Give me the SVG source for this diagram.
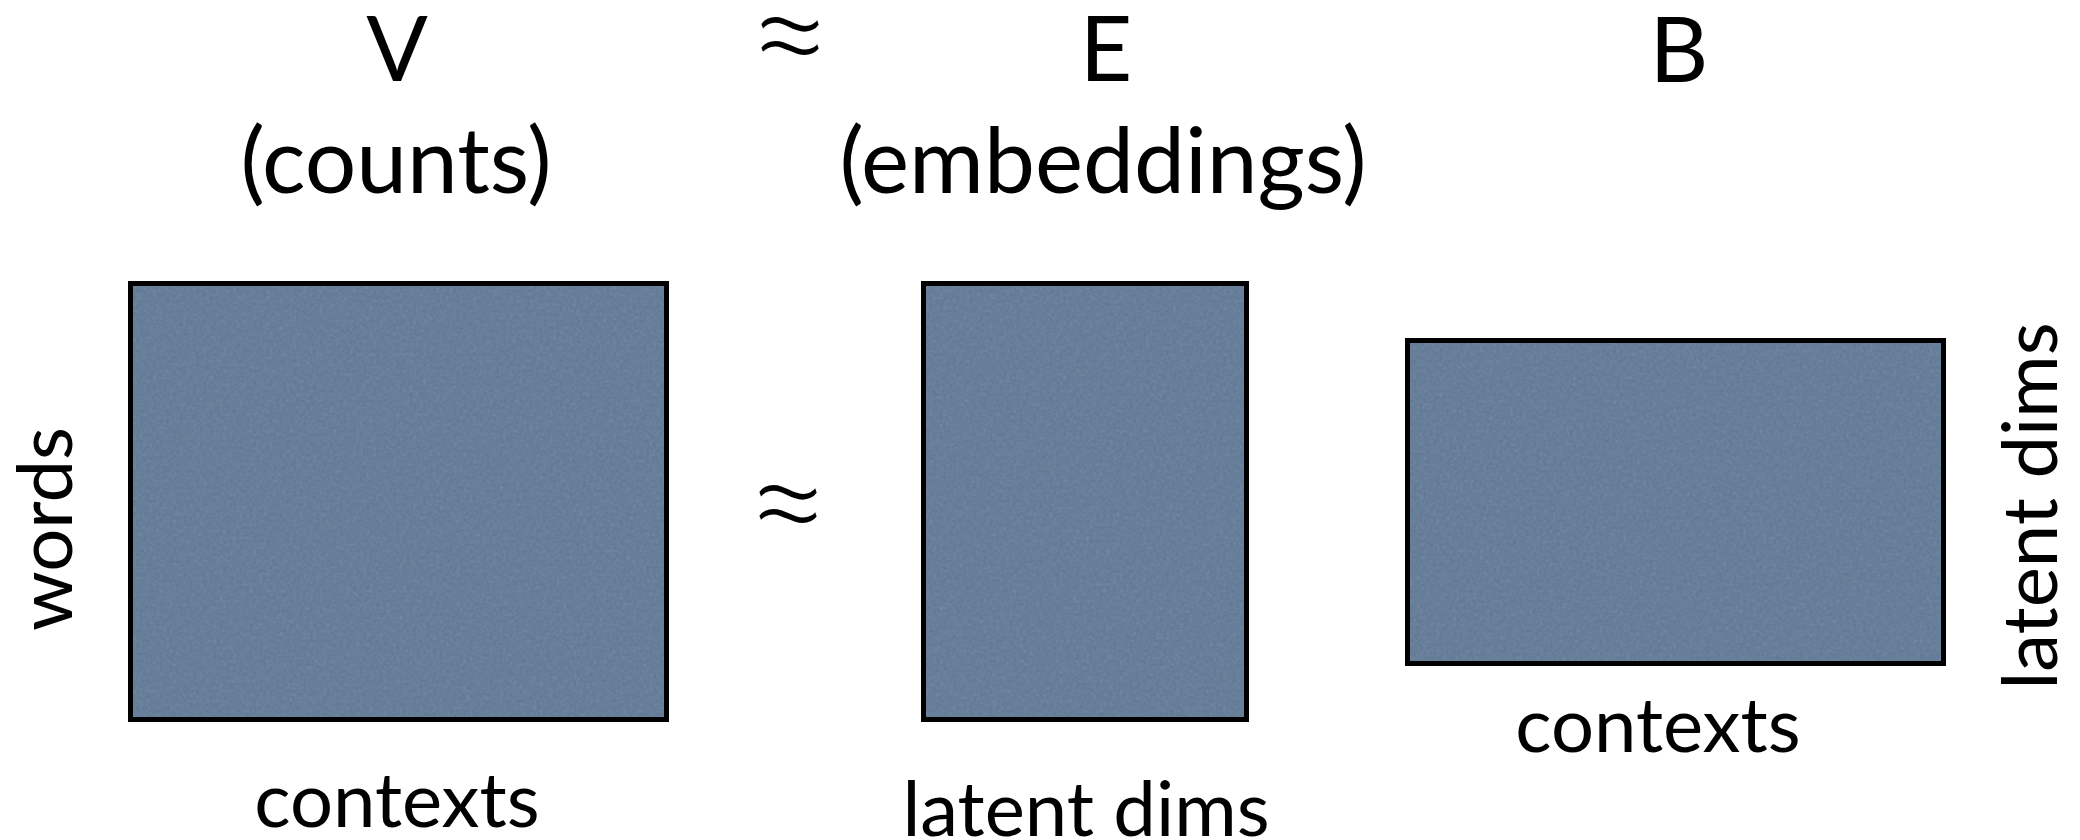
<svg xmlns="http://www.w3.org/2000/svg" width="2080" height="840" viewBox="0 0 2080 840">
  <style>
    .t { font-family: Lato, "Open Sans", "Liberation Sans", sans-serif; fill: #000; text-anchor: middle; }
    .big { font-size: 91px; }
    .apx { font-size: 150px; font-weight: 300; }
    .lab { font-size: 76px; }
    .mat { fill: #5e7896; stroke: #000; stroke-width: 5; }
    .tex { filter: url(#noise); opacity: 0.2; }
  </style>
  <defs>
    <filter id="noise" x="0" y="0" width="100%" height="100%">
      <feTurbulence type="fractalNoise" baseFrequency="0.3" numOctaves="3" seed="4" result="n"/>
      <feColorMatrix type="saturate" values="0"/>
    </filter>
  </defs>
  <rect width="2080" height="840" fill="#fff"/>

  <g id="title-V">
    <text class="t big" x="397" y="81">V</text>
    <text class="t big" x="396" y="193">(counts)</text>
  </g>
  <g id="approx-top">
    <text class="t apx" x="790" y="87">≈</text>
  </g>
  <g id="title-E">
    <text class="t big" x="1106" y="81">E</text>
    <text class="t big" x="1103" y="193">(embeddings)</text>
  </g>
  <g id="title-B">
    <text class="t big" x="1679" y="82">B</text>
  </g>

  <g id="matrix-V">
    <rect class="mat" x="130.5" y="283.5" width="536" height="436"/>
    <rect class="tex" x="133" y="286" width="531" height="431"/>
    <text class="t lab" transform="translate(72,529) rotate(-90)">words</text>
    <text class="t lab" x="397" y="827">contexts</text>
  </g>

  <g id="approx-mid">
    <text class="t apx" x="788" y="555">≈</text>
  </g>

  <g id="matrix-E">
    <rect class="mat" x="923.5" y="283.5" width="323" height="436"/>
    <rect class="tex" x="926" y="286" width="318" height="431"/>
    <text class="t lab" x="1086" y="836">latent dims</text>
  </g>

  <g id="matrix-B">
    <rect class="mat" x="1407.5" y="340.5" width="536" height="323"/>
    <rect class="tex" x="1410" y="343" width="531" height="318"/>
    <text class="t lab" x="1658" y="752">contexts</text>
    <text class="t lab" transform="translate(2057,506) rotate(-90)">latent dims</text>
  </g>

  <g id="connectors"></g>
</svg>
